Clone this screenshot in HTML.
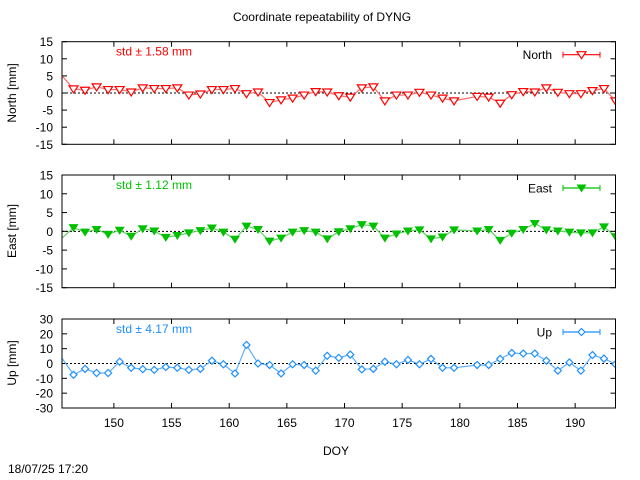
<!DOCTYPE html>
<html><head><meta charset="utf-8"><style>
html,body{margin:0;padding:0;background:#fff}
svg{display:block;font-family:"Liberation Sans",sans-serif}
</style></head><body>
<svg id="chart" width="640" height="480" viewBox="0 0 640 480" xmlns="http://www.w3.org/2000/svg">
<text x="322" y="21" font-size="12" text-anchor="middle">Coordinate repeatability of DYNG</text>
<text x="336" y="455" font-size="12" text-anchor="middle">DOY</text>
<text x="8" y="473" font-size="12">18/07/25 17:20</text>
</svg>
<script>
const dayIndex = [0,1,2,3,4,5,6,7,8,9,10,11,12,13,14,15,16,17,18,19,20,21,22,23,24,25,26,27,28,29,30,31,32,33,34,36,37,38,39,40,41,42,43,44,45,46,47,48];
const northVals = [5,1.2,0.8,1.8,1.0,1.0,0.3,1.5,1.3,1.3,1.5,-0.6,-0.3,1.0,1.0,1.3,-0.2,0.3,-2.8,-2.0,-1.5,-0.6,0.4,0.3,-0.8,-1.2,1.5,1.8,-2.3,-0.6,-0.6,0.2,-0.6,-1.5,-2.3,-1.0,-1.2,-3.0,-0.5,0.4,0.3,1.5,0.2,-0.2,-0.2,0.7,1.3,-2.3];
const eastVals = [-1.8,1.0,-0.2,0.5,-0.8,0.3,-1.3,0.7,0.1,-1.6,-1.1,-0.4,0.2,0.9,-0.2,-2.1,1.4,0.5,-2.6,-1.8,-0.2,0.2,-0.2,-2.0,-0.1,0.7,1.8,1.4,-1.8,-0.7,0.1,0.4,-2.0,-1.5,0.4,0.1,0.5,-2.4,-0.5,0.5,2.1,0.4,0.1,-0.2,-0.4,-0.4,1.2,-1.4];
const upVals = [3.6,-7.6,-3.6,-6.4,-6.4,1.2,-2.9,-3.8,-4.3,-2.4,-2.9,-4.3,-3.6,1.9,-0.5,-6.7,12.5,0,-1,-6.7,-0.5,-1,-4.8,5.2,3.8,6,-4,-3.6,1.2,-0.5,2.4,-0.5,3.1,-2.9,-2.9,-1,-1,3.1,7.1,6.7,6.7,1.9,-4.8,0.7,-4.8,5.7,3.3,-0.5];
const xTicks = [150,155,160,165,170,175,180,185,190];
const northTicks = [15,10,5,0,-5,-10,-15];
const upTicks = [30,20,10,0,-10,-20,-30];

const NS="http://www.w3.org/2000/svg";
const svg=document.getElementById('chart');
const X0=62,X1=615.5,D0=145.5,D1=193.5;
function xs(d){return X0+(d-D0)/(D1-D0)*(X1-X0);}
function mk(tag,attrs,parent){const e=document.createElementNS(NS,tag);for(const k in attrs)e.setAttribute(k,attrs[k]);(parent||svg).appendChild(e);return e;}

const panels=[
 {name:'north',label:'North [mm]',leg:'North',std:'std ± 1.58 mm',vals:northVals,ticks:northTicks,lim:15,top:41.7,bot:144.3,color:'#ff0000',line:'#ff6a6a',marker:'otri',labelY:93},
 {name:'east',label:'East [mm]',leg:'East',std:'std ± 1.12 mm',vals:eastVals,ticks:northTicks,lim:15,top:175,bot:287.7,color:'#00c000',line:'#5fd35f',marker:'ftri',labelY:231},
 {name:'up',label:'Up [mm]',leg:'Up',std:'std ± 4.17 mm',vals:upVals,ticks:upTicks,lim:30,top:319,bot:408,color:'#1e90ff',line:'#5eaeff',marker:'dia',labelY:363}
];

function marker(g,m,x,y,color){
  let e;
  if(m==='dia'){e=mk('path',{d:`M${x} ${y-3.5}L${x+3.5} ${y}L${x} ${y+3.5}L${x-3.5} ${y}Z`,fill:'#fff',stroke:color,'stroke-width':1.2},g);}
  else if(m==='otri'){e=mk('path',{d:`M${x-4.5} ${y-3}L${x+4.5} ${y-3}L${x} ${y+4}Z`,fill:'#fff',stroke:color,'stroke-width':1.2},g);}
  else {e=mk('path',{d:`M${x-5} ${y-3.5}L${x+5} ${y-3.5}L${x} ${y+4.5}Z`,fill:color},g);}
  return e;
}

panels.forEach(p=>{
  const ys=v=>p.top+(p.lim-v)/(2*p.lim)*(p.bot-p.top);
  const g=mk('g',{});
  
  
  const cp=mk('clipPath',{id:'clip-'+p.name},g);
  mk('rect',{x:X0,y:p.top,width:X1-X0,height:p.bot-p.top},cp);
  const z=mk('line',{x1:X0,x2:X1,y1:ys(0),y2:ys(0),stroke:'#000','stroke-dasharray':'2,2','stroke-width':1},g);
  
  
  p.ticks.forEach(t=>{
    const y=ys(t);
    mk('line',{x1:X0,x2:X0+5,y1:y,y2:y,stroke:'#000'},g);
    mk('line',{x1:X1-5,x2:X1,y1:y,y2:y,stroke:'#000'},g);
    const tx=mk('text',{x:X0-9,y:y+4.5,'font-size':12,'text-anchor':'end'},g);
    tx.textContent=t;
    
    
  });
  xTicks.forEach(t=>{
    const x=xs(t);
    mk('line',{x1:x,x2:x,y1:p.bot,y2:p.bot-5,stroke:'#000'},g);
    mk('line',{x1:x,x2:x,y1:p.top,y2:p.top+5,stroke:'#000'},g);
    if(p.name==='up'){
      const tx=mk('text',{x:x,y:p.bot+19,'font-size':12,'text-anchor':'middle'},g);
      tx.textContent=t;
      
      
    }
  });
  const yl=mk('text',{x:0,y:0,'font-size':12,'text-anchor':'middle',transform:`translate(16 ${p.labelY}) rotate(-90)`},g);
  yl.textContent=p.label;
  
  
  const sg=mk('g',{'clip-path':`url(#clip-${p.name})`},g);
  
  
  const pts=p.vals.map((v,i)=>[xs(D0+dayIndex[i]),ys(v)]);
  const pl=mk('polyline',{points:pts.map(q=>q.join(',')).join(' '),fill:'none',stroke:p.line,'stroke-width':1.2},sg);
  
  
  pts.forEach(q=>{
    if(q[0]<=X0+0.5) return;
    const m=marker(sg,p.marker,q[0],q[1],p.color);
    
    
  });
  const fr=mk('rect',{x:X0,y:p.top,width:X1-X0,height:p.bot-p.top,fill:'none',stroke:'#000','stroke-width':1},g);
  
  
  const st=mk('text',{x:116,y:p.top+14,'font-size':12,fill:p.color},g);
  st.textContent=p.std;
  
  
  const lg=mk('g',{},g);
  
  
  const ly=p.top+13;
  const lt=mk('text',{x:552,y:ly+4.5,'font-size':12,'text-anchor':'end'},lg);
  lt.textContent=p.leg;
  mk('line',{x1:563,x2:600,y1:ly,y2:ly,stroke:p.color,'stroke-width':1.2},lg);
  mk('line',{x1:563,x2:563,y1:ly-3,y2:ly+3,stroke:p.color},lg);
  mk('line',{x1:600,x2:600,y1:ly-3,y2:ly+3,stroke:p.color},lg);
  marker(lg,p.marker,581.5,ly,p.color);
});
</script>
</body></html>
